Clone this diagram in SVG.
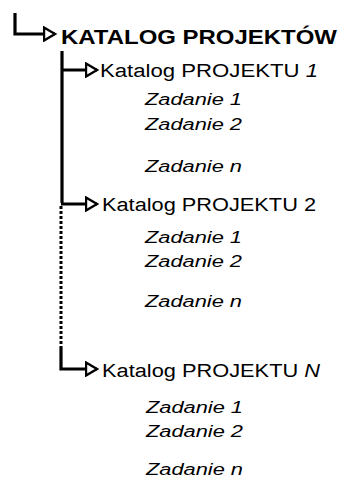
<svg xmlns="http://www.w3.org/2000/svg" width="342" height="477" viewBox="0 0 342 477">
<style>
text{font-family:"Liberation Sans",Arial,sans-serif;fill:#000}
.title{font-size:21px;font-weight:bold}
.kat{font-size:18px}
.zad{font-size:16px;font-style:italic}
.it{font-style:italic}
.ln{fill:none;stroke:#000;stroke-width:3.2}
.dot{fill:none;stroke:#000;stroke-width:3;stroke-dasharray:3 2}
</style>
<defs>
<marker id="tri" markerUnits="userSpaceOnUse" markerWidth="15" markerHeight="16" refX="12.5" refY="8" orient="auto" viewBox="0 0 15 16">
<path d="M1.5,1.5 L12.5,8 L1.5,14.5 Z" fill="#fff" stroke="#000" stroke-width="2.4" stroke-linejoin="miter"/>
</marker>
</defs>
<g id="connectors">
<path class="ln" d="M15,13 V34 H55" marker-end="url(#tri)"/>
<path class="ln" d="M62,51 V203"/>
<path class="ln" d="M62,70 H97" marker-end="url(#tri)"/>
<path class="ln" d="M61,204 H97" marker-end="url(#tri)"/>
<path class="dot" d="M61,206 V347"/>
<path class="ln" d="M61,347 V369 H97" marker-end="url(#tri)"/>
</g>
<g id="root"><text class="title" x="61" y="44" textLength="276" lengthAdjust="spacingAndGlyphs">KATALOG PROJEKTÓW</text></g>
<g id="proj1">
<text class="kat" x="100" y="77" textLength="218" lengthAdjust="spacingAndGlyphs">Katalog PROJEKTU <tspan class="it">1</tspan></text>
<text class="zad" x="145" y="105" textLength="97" lengthAdjust="spacingAndGlyphs">Zadanie 1</text>
<text class="zad" x="145" y="130" textLength="97" lengthAdjust="spacingAndGlyphs">Zadanie 2</text>
<text class="zad" x="145" y="172" textLength="97" lengthAdjust="spacingAndGlyphs">Zadanie n</text>
</g>
<g id="proj2">
<text class="kat" x="102" y="211" textLength="214" lengthAdjust="spacingAndGlyphs">Katalog PROJEKTU 2</text>
<text class="zad" x="145" y="243" textLength="97" lengthAdjust="spacingAndGlyphs">Zadanie 1</text>
<text class="zad" x="145" y="267" textLength="97" lengthAdjust="spacingAndGlyphs">Zadanie 2</text>
<text class="zad" x="145" y="307" textLength="97" lengthAdjust="spacingAndGlyphs">Zadanie n</text>
</g>
<g id="projN">
<text class="kat" x="102" y="377" textLength="218" lengthAdjust="spacingAndGlyphs">Katalog PROJEKTU <tspan class="it">N</tspan></text>
<text class="zad" x="146" y="413" textLength="97" lengthAdjust="spacingAndGlyphs">Zadanie 1</text>
<text class="zad" x="146" y="437" textLength="97" lengthAdjust="spacingAndGlyphs">Zadanie 2</text>
<text class="zad" x="146" y="475" textLength="97" lengthAdjust="spacingAndGlyphs">Zadanie n</text>
</g>
</svg>
